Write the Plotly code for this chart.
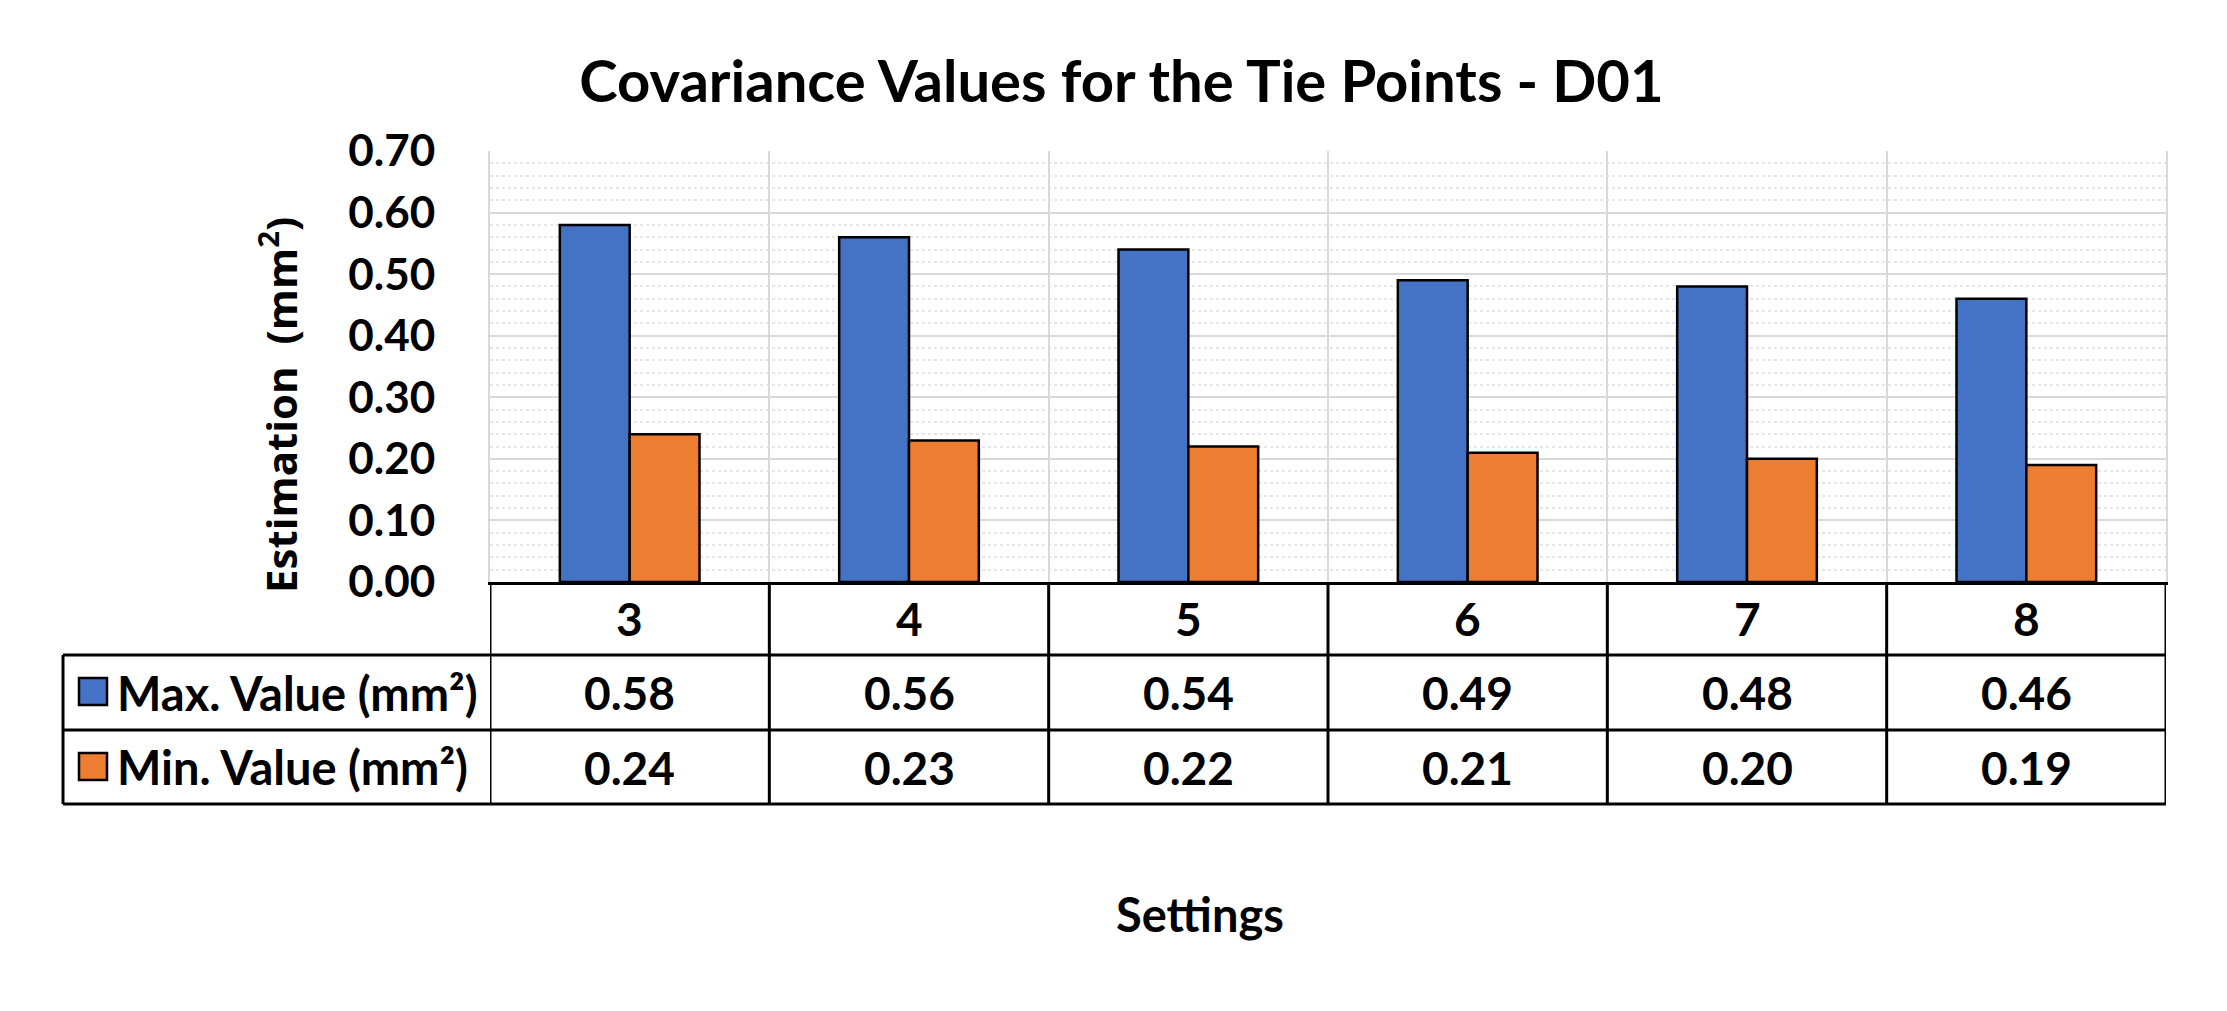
import plotly.graph_objects as go

categories = ["3", "4", "5", "6", "7", "8"]
max_values = [0.58, 0.56, 0.54, 0.49, 0.48, 0.46]
min_values = [0.24, 0.23, 0.22, 0.21, 0.20, 0.19]
series_names = ["Max. Value (mm²)", "Min. Value (mm²)"]
y_ticks = [0.0, 0.1, 0.2, 0.3, 0.4, 0.5, 0.6, 0.7]

BLUE = "#4472C4"
ORANGE = "#ED7D31"

W, H = 2227, 1011
L, R, T, B = 482, 2158, 143, 574
PW, PH = R - L, B - T


def px(xp):
    return (xp - L) / PW


def py(yp):
    return (B - yp) / PH


TXT = dict(family="Lato", size=46, color="black", weight=700)

fig = go.Figure()
fig.add_trace(go.Bar(x=categories, y=max_values, name=series_names[0],
                     marker=dict(color=BLUE, line=dict(color="black", width=2.5))))
fig.add_trace(go.Bar(x=categories, y=min_values, name=series_names[1],
                     marker=dict(color=ORANGE, line=dict(color="black", width=2.5))))

shapes = []
row_lines = [647, 722, 796]
table_left = 55
for yl in row_lines:
    shapes.append(dict(type="line", xref="paper", yref="paper", x0=px(table_left), x1=1.0,
                       y0=py(yl), y1=py(yl), line=dict(color="black", width=3)))
# left border of legend column
shapes.append(dict(type="line", xref="paper", yref="paper", x0=px(table_left), x1=px(table_left),
                   y0=py(row_lines[0]), y1=py(row_lines[-1]), line=dict(color="black", width=3)))
# column separators
for i in range(len(categories) + 1):
    xb = i - 0.5
    shapes.append(dict(type="line", xref="x", yref="paper", x0=xb, x1=xb,
                       y0=0, y1=py(row_lines[-1]), line=dict(color="black", width=3)))
# legend swatches
swatches = [(BLUE, 670, 697), (ORANGE, 745, 772)]
for col, ya, yb in swatches:
    shapes.append(dict(type="rect", xref="paper", yref="paper", x0=px(71), x1=px(99),
                       y0=py(yb), y1=py(ya), fillcolor=col, line=dict(color="black", width=2.5)))

annotations = []
row_centers = [(B + row_lines[0]) / 2, (row_lines[0] + row_lines[1]) / 2, (row_lines[1] + row_lines[2]) / 2]
for i, c in enumerate(categories):
    annotations.append(dict(x=i, y=py(row_centers[0]), xref="x", yref="paper", text=c,
                            showarrow=False, font=TXT, xanchor="center", yanchor="middle"))
    annotations.append(dict(x=i, y=py(row_centers[1]), xref="x", yref="paper", text=f"{max_values[i]:.2f}",
                            showarrow=False, font=TXT, xanchor="center", yanchor="middle"))
    annotations.append(dict(x=i, y=py(row_centers[2]), xref="x", yref="paper", text=f"{min_values[i]:.2f}",
                            showarrow=False, font=TXT, xanchor="center", yanchor="middle"))
for name, yc in zip(series_names, row_centers[1:]):
    annotations.append(dict(x=px(107), y=py(yc), xref="paper", yref="paper", text=name,
                            showarrow=False, font=dict(family="Lato", size=47, color="black", weight=700),
                            xanchor="left", yanchor="middle"))

annotations.append(dict(x=px(1192), y=py(906), xref="paper", yref="paper", text="Settings",
                        showarrow=False, font=dict(family="Lato", size=47, color="black", weight=700),
                        xanchor="center", yanchor="middle"))
annotations.append(dict(x=px(270), y=py(397), xref="paper", yref="paper",
                        text="Estimation  (mm<sup>2</sup>)", textangle=-90,
                        showarrow=False, font=dict(family="Open Sans", size=42, color="black", weight=700),
                        xanchor="center", yanchor="middle"))

fig.update_layout(
    width=W, height=H,
    margin=dict(l=L, r=W - R, t=T, b=H - B, pad=0),
    paper_bgcolor="white", plot_bgcolor="white",
    barmode="group", bargap=0.5, bargroupgap=0,
    showlegend=False,
    title=dict(text="Covariance Values for the Tie Points - D01", x=0.5, xref="container",
               y=1 - 74 / H, yref="container", xanchor="center", yanchor="middle",
               font=dict(family="Lato", size=58, color="black", weight=700)),
    shapes=shapes, annotations=annotations,
)
fig.update_xaxes(type="category", range=[-0.5, 5.5], showticklabels=False, ticks="",
                 tickson="boundaries", showgrid=True, gridcolor="#D9D9D9", gridwidth=2,
                 showline=True, linecolor="black", linewidth=3, zeroline=False)
fig.update_yaxes(range=[0, 0.7], tickvals=y_ticks, ticktext=[f"{v:.2f}" for v in y_ticks],
                 tickfont=dict(family="Lato", size=44, color="black", weight=700),
                 ticks="", ticklabelstandoff=44,
                 showgrid=True, gridcolor="#D9D9D9", gridwidth=2,
                 minor=dict(dtick=0.02, showgrid=True, gridcolor="#E6E6E6", gridwidth=1.5, griddash="dot"),
                 showline=True, linecolor="#D9D9D9", linewidth=2, mirror=True, zeroline=False)

fig.write_html("out.html")
